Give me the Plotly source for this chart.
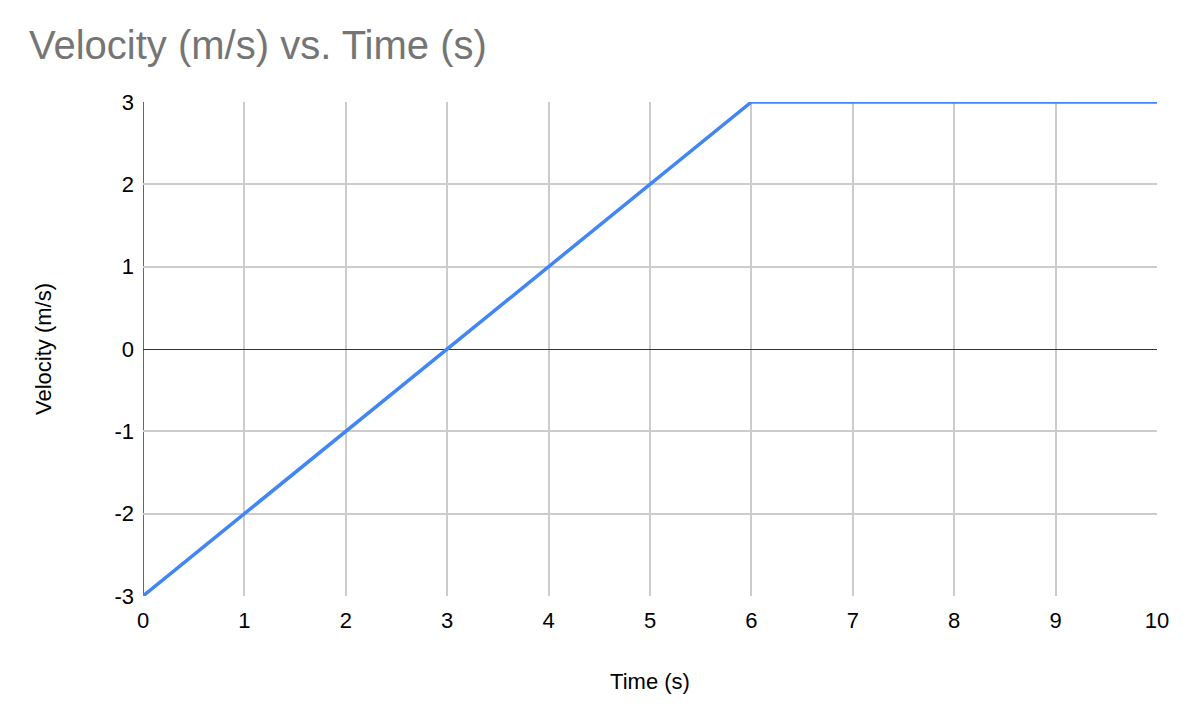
import plotly.graph_objects as go

time_s = [0, 6, 10]
velocity_ms = [-3, 3, 3]
x_ticks = list(range(0, 11))
y_ticks = [-3, -2, -1, 0, 1, 2, 3]

fig = go.Figure()
fig.add_trace(go.Scatter(
    x=time_s, y=velocity_ms, mode="lines",
    line=dict(color="#4285F4", width=3.5),
    showlegend=False, cliponaxis=False,
))

font = "Liberation Sans, Arial, sans-serif"
fig.update_layout(
    width=1186, height=718,
    paper_bgcolor="white", plot_bgcolor="white",
    margin=dict(l=135, r=37, t=94, b=130),
    title=dict(text="Velocity (m/s) vs. Time (s)", x=21/1186, xanchor="left",
               y=1-37/718, yanchor="middle",
               font=dict(family=font, size=40, color="#757575")),
    font=dict(family=font, color="#000000"),
    xaxis=dict(range=[0, 10], tickvals=x_ticks, ticktext=[str(v) for v in x_ticks],
               showgrid=True, gridcolor="#cccccc", gridwidth=1.5,
               zeroline=False, showline=False, ticks="",
               tickfont=dict(size=22), ticklabelstandoff=9,
               title=dict(text="Time (s)", font=dict(size=22), standoff=41)),
    yaxis=dict(range=[-3, 3], tickvals=y_ticks, ticktext=[str(v) for v in y_ticks],
               showgrid=True, gridcolor="#cccccc", gridwidth=1.5,
               zeroline=True, zerolinecolor="#333333", zerolinewidth=1.3,
               showline=False, ticks="",
               tickfont=dict(size=22), ticklabelstandoff=8,
               title=dict(text="Velocity (m/s)", font=dict(size=22), standoff=56)),
)
# dark vertical axis line at x = 0
fig.add_shape(type="line", xref="x", yref="paper", x0=0, x1=0, y0=0, y1=1,
              line=dict(color="#333333", width=1.5), layer="below")

fig.write_html("out.html")
